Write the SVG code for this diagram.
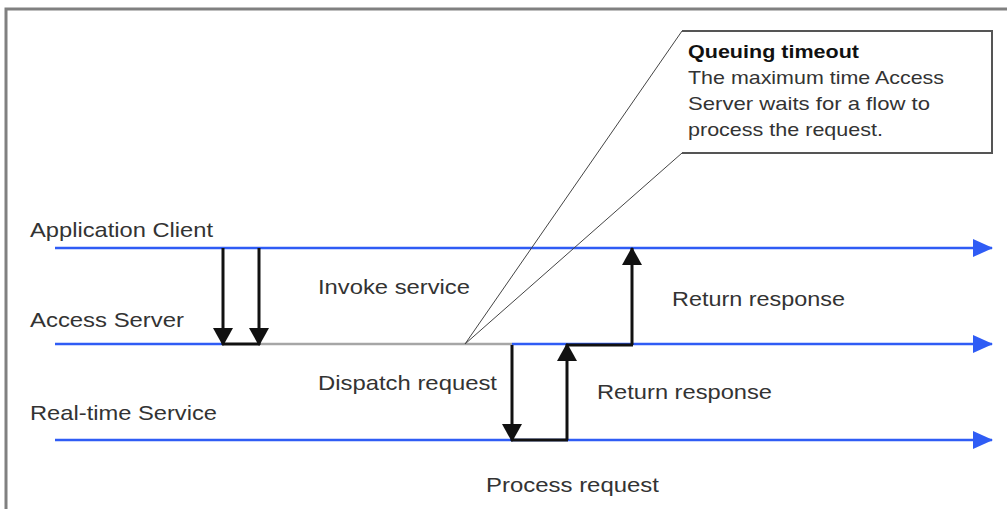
<svg xmlns="http://www.w3.org/2000/svg" width="1007" height="509" viewBox="0 0 1007 509">
  <style>
    .lbl { font-family: "Liberation Sans", Arial, sans-serif; font-size: 21px; fill: #333333; }
    .note { font-family: "Liberation Sans", Arial, sans-serif; font-size: 19px; fill: #333333; }
    .bold { font-weight: bold; fill: #111111; }
    .life { stroke: #2f5cf5; stroke-width: 2.5; fill: none; }
    .msg { stroke: #111111; stroke-width: 3; fill: none; }
    .idle { stroke: #a6a6a6; stroke-width: 2.5; fill: none; }
  </style>
  <defs>
    <marker id="blueHead" viewBox="0 0 20 18" refX="19" refY="9" markerWidth="20" markerHeight="18" markerUnits="userSpaceOnUse" orient="auto">
      <path d="M0,0 L20,9 L0,18 Z" fill="#2f5cf5"/>
    </marker>
    <marker id="blackHead" viewBox="0 0 18 20" refX="17" refY="10" markerWidth="18" markerHeight="20" markerUnits="userSpaceOnUse" orient="auto">
      <path d="M0,0 L18,10 L0,20 Z" fill="#111111"/>
    </marker>
  </defs>

  <rect x="0" y="0" width="1007" height="509" fill="#ffffff"/>
  <!-- outer frame -->
  <rect x="6" y="9" width="1100" height="600" fill="none" stroke="#808080" stroke-width="3"/>

  <!-- lifelines -->
  <g id="application-client">
    <line class="life" x1="55" y1="248" x2="992" y2="248" marker-end="url(#blueHead)"/>
    <text class="lbl" x="30" y="237" textLength="183" lengthAdjust="spacingAndGlyphs">Application Client</text>
  </g>
  <g id="access-server">
    <line class="life" x1="55" y1="344" x2="222" y2="344"/>
    <line class="idle" x1="260" y1="344" x2="512" y2="344"/>
    <line class="life" x1="512" y1="344" x2="992" y2="344" marker-end="url(#blueHead)"/>
    <text class="lbl" x="30" y="327" textLength="154" lengthAdjust="spacingAndGlyphs">Access Server</text>
  </g>
  <g id="realtime-service">
    <line class="life" x1="55" y1="440" x2="992" y2="440" marker-end="url(#blueHead)"/>
    <text class="lbl" x="30" y="420" textLength="187" lengthAdjust="spacingAndGlyphs">Real-time Service</text>
  </g>

  <!-- queuing timeout callout -->
  <g id="queuing-timeout">
    <path d="M682,31 L465,344 L682,153" fill="none" stroke="#444444" stroke-width="1"/>
    <path d="M682,31 L992,31 L992,153 L682,153" fill="none" stroke="#555555" stroke-width="2"/>
    <text class="note bold" x="688" y="58" textLength="171" lengthAdjust="spacingAndGlyphs">Queuing timeout</text>
    <text class="note" x="688" y="84" textLength="256" lengthAdjust="spacingAndGlyphs">The maximum time Access</text>
    <text class="note" x="688" y="110" textLength="242" lengthAdjust="spacingAndGlyphs">Server waits for a flow to</text>
    <text class="note" x="688" y="136" textLength="195" lengthAdjust="spacingAndGlyphs">process the request.</text>
  </g>

  <!-- messages -->
  <g id="connectors">
    <line class="msg" x1="223" y1="248" x2="223" y2="345" marker-end="url(#blackHead)"/>
    <line class="msg" x1="259" y1="248" x2="259" y2="345" marker-end="url(#blackHead)"/>
    <line class="msg" x1="222" y1="344" x2="260" y2="344"/>
    <line class="msg" x1="512" y1="345" x2="512" y2="441" marker-end="url(#blackHead)"/>
    <line class="msg" x1="511" y1="440" x2="568" y2="440"/>
    <line class="msg" x1="567" y1="440" x2="567" y2="344" marker-end="url(#blackHead)"/>
    <line class="msg" x1="566" y1="345" x2="633" y2="345"/>
    <line class="msg" x1="632" y1="345" x2="632" y2="248" marker-end="url(#blackHead)"/>
  </g>

  <!-- message labels -->
  <g id="labels">
    <text class="lbl" x="318" y="294" textLength="152" lengthAdjust="spacingAndGlyphs">Invoke service</text>
    <text class="lbl" x="672" y="306" textLength="173" lengthAdjust="spacingAndGlyphs">Return response</text>
    <text class="lbl" x="318" y="390" textLength="179" lengthAdjust="spacingAndGlyphs">Dispatch request</text>
    <text class="lbl" x="597" y="399" textLength="175" lengthAdjust="spacingAndGlyphs">Return response</text>
    <text class="lbl" x="486" y="492" textLength="173" lengthAdjust="spacingAndGlyphs">Process request</text>
  </g>
</svg>
